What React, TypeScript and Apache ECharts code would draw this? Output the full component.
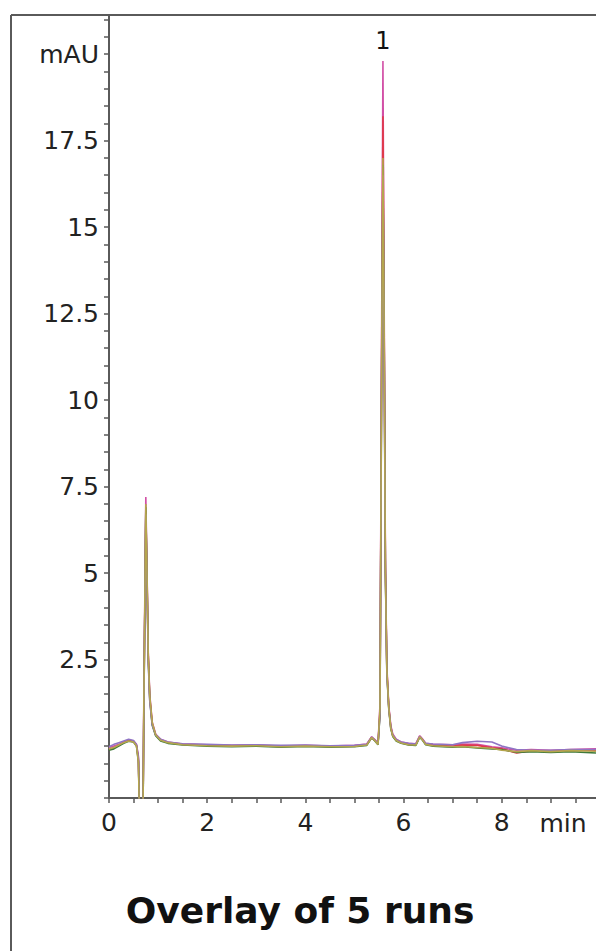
import React, { useEffect, useRef } from "react";
import * as echarts from "echarts";

// retention time (min)
const time = [
  0, 0.1, 0.2, 0.3, 0.4, 0.5, 0.56, 0.6, 0.625, 0.69,
  0.71, 0.75, 0.78, 0.8, 0.83, 0.88, 0.95, 1.05, 1.2, 1.5,
  2.0, 2.5, 3.0, 3.5, 4.0, 4.5, 5.0, 5.25, 5.35, 5.42,
  5.48, 5.52, 5.555, 5.58, 5.605, 5.63, 5.66, 5.7, 5.74, 5.78,
  5.85, 5.95, 6.1, 6.25, 6.33, 6.38, 6.45, 6.6, 7.0, 7.2,
  7.5, 7.8, 8.0, 8.3, 8.6, 9.0, 9.4, 9.92,
];

// absorbance (mAU), five runs
const run1 = [
  -0.05, 0.0, 0.05, 0.12, 0.18, 0.15, 0.05, -0.3, -2.5, -2.5,
  1.5, 7.2, 4.6, 2.7, 1.5, 0.7, 0.35, 0.2, 0.12, 0.06,
  0.04, 0.02, 0.03, 0.0, 0.02, 0.0, 0.02, 0.06, 0.27, 0.18,
  0.08, 1.2, 12.5, 19.8, 12.8, 5.4, 2.3, 1.15, 0.6, 0.35,
  0.2, 0.12, 0.08, 0.07, 0.3, 0.22, 0.08, 0.05, 0.04, 0.06,
  0.05, -0.02, -0.05, -0.12, -0.1, -0.12, -0.1, -0.08,
];
const run2 = [
  -0.1, -0.05, 0.02, 0.1, 0.16, 0.13, 0.02, -0.4, -2.5, -2.5,
  1.2, 6.8, 4.4, 2.6, 1.4, 0.65, 0.32, 0.18, 0.1, 0.05,
  0.03, 0.01, 0.02, -0.01, 0.01, -0.01, 0.0, 0.04, 0.25, 0.16,
  0.06, 1.0, 11.8, 18.2, 12.2, 5.2, 2.2, 1.1, 0.55, 0.3,
  0.17, 0.1, 0.05, 0.04, 0.28, 0.2, 0.06, 0.02, 0.0, 0.03,
  0.02, -0.05, -0.08, -0.2, -0.14, -0.15, -0.12, -0.12,
];
const run3 = [
  -0.12, -0.08, 0.0, 0.08, 0.14, 0.12, 0.0, -0.45, -2.5, -2.5,
  1.0, 6.9, 4.3, 2.5, 1.35, 0.6, 0.3, 0.15, 0.08, 0.03,
  0.0, -0.02, 0.0, -0.03, -0.01, -0.03, -0.02, 0.02, 0.24, 0.14,
  0.04, 0.9, 11.2, 16.8, 11.8, 5.0, 2.1, 1.05, 0.5, 0.28,
  0.15, 0.08, 0.03, 0.02, 0.26, 0.18, 0.04, 0.0, -0.03, -0.02,
  -0.05, -0.08, -0.1, -0.18, -0.16, -0.18, -0.16, -0.2,
];
const run4 = [
  -0.02, 0.05, 0.1, 0.15, 0.2, 0.16, 0.04, -0.35, -2.5, -2.5,
  1.1, 6.7, 4.2, 2.4, 1.3, 0.62, 0.33, 0.2, 0.12, 0.07,
  0.05, 0.03, 0.04, 0.02, 0.03, 0.01, 0.02, 0.05, 0.26, 0.17,
  0.07, 0.95, 11.0, 16.5, 11.6, 5.0, 2.1, 1.08, 0.55, 0.32,
  0.19, 0.12, 0.08, 0.06, 0.28, 0.2, 0.08, 0.06, 0.04, 0.1,
  0.14, 0.12, 0.0, -0.1, -0.12, -0.12, -0.1, -0.1,
];
const run5 = [
  -0.08, -0.04, 0.03, 0.1, 0.15, 0.12, 0.0, -0.5, -2.5, -2.5,
  1.3, 7.0, 4.5, 2.6, 1.45, 0.68, 0.33, 0.17, 0.1, 0.04,
  0.01, 0.0, 0.01, -0.02, 0.0, -0.02, -0.01, 0.03, 0.25, 0.15,
  0.05, 1.1, 11.5, 17.0, 12.0, 5.1, 2.2, 1.1, 0.52, 0.3,
  0.16, 0.09, 0.04, 0.03, 0.27, 0.19, 0.05, 0.01, -0.02, -0.01,
  -0.04, -0.06, -0.12, -0.16, -0.13, -0.16, -0.13, -0.15,
];

const runColors = ["#d24fa6", "#e0394a", "#3f7a3a", "#8f74c4", "#b5a64e"];
const runs = [run1, run2, run3, run4, run5];

const xTicks = [0, 0.5, 1, 1.5, 2, 2.5, 3, 3.5, 4, 4.5, 5, 5.5, 6, 6.5, 7, 7.5, 8, 8.5, 9, 9.5];
const xLabels = [0, 2, 4, 6, 8];
const yTicks = [
  -1.5, -1, -0.5, 0, 0.5, 1, 1.5, 2, 2.5, 3, 3.5, 4, 4.5, 5, 5.5, 6, 6.5, 7, 7.5, 8, 8.5, 9, 9.5,
  10, 10.5, 11, 11.5, 12, 12.5, 13, 13.5, 14, 14.5, 15, 15.5, 16, 16.5, 17, 17.5, 18, 18.5, 19,
  19.5, 20, 20.5, 21,
];
const yLabels = [2.5, 5, 7.5, 10, 12.5, 15, 17.5, 20];
const peakLabel = "1";
const yUnit = "mAU";
const xUnit = "min";
const title = "Overlay of 5 runs";

const FONT = "DejaVu Sans";

export default function App() {
  const ref = useRef<HTMLDivElement>(null);
  useEffect(() => {
    if (!ref.current) return;
    const chart = echarts.init(ref.current, null, { renderer: "svg" });
    let iMax = 0;
    run1.forEach((v, i) => {
      if (v > run1[iMax]) iMax = i;
    });
    const series: any[] = runs.map((vals, k) => ({
      type: "line",
      data: time.map((t, i) => [t, vals[i]]),
      showSymbol: false,
      symbol: "none",
      lineStyle: { color: runColors[k], width: 1.6 },
      itemStyle: { color: runColors[k] },
      clip: true,
      silent: true,
      markPoint:
        k === 0
          ? {
              symbol: "circle",
              symbolSize: 1,
              itemStyle: { color: "rgba(0,0,0,0)" },
              label: {
                show: true,
                position: "top",
                distance: 8,
                formatter: peakLabel,
                color: "#111",
                fontSize: 24,
                fontFamily: FONT,
              },
              data: [{ coord: [time[iMax], run1[iMax]] }],
            }
          : undefined,
    }));
    chart.setOption({
      animation: false,
      backgroundColor: "#ffffff",
      grid: { left: 109, right: 0, top: 15, bottom: 153, containLabel: false },
      xAxis: {
        type: "value",
        min: 0,
        max: 9.92,
        axisLine: { show: true, onZero: false, lineStyle: { color: "#5a5a5a", width: 2 } },
        axisTick: {
          show: true,
          customValues: xTicks,
          length: 5,
          lineStyle: { color: "#5a5a5a", width: 1.5 },
        },
        axisLabel: {
          customValues: xLabels,
          margin: 12,
          color: "#222",
          fontSize: 25,
          fontFamily: FONT,
          formatter: (v: number) => String(v),
        },
        splitLine: { show: false },
      },
      yAxis: {
        type: "value",
        min: -1.5,
        max: 21.13,
        axisLine: { show: true, onZero: false, lineStyle: { color: "#5a5a5a", width: 2 } },
        axisTick: {
          show: true,
          customValues: yTicks,
          length: 5,
          lineStyle: { color: "#5a5a5a", width: 1.5 },
        },
        axisLabel: {
          customValues: yLabels,
          margin: 10,
          color: "#222",
          fontSize: 25,
          fontFamily: FONT,
          formatter: (v: number) => (v === 20 ? yUnit : String(v)),
        },
        splitLine: { show: false },
      },
      series,
      graphic: [
        {
          type: "line",
          shape: { x1: 11, y1: 15, x2: 596, y2: 15 },
          style: { stroke: "#5a5a5a", lineWidth: 2 },
          silent: true,
        },
        {
          type: "line",
          shape: { x1: 11, y1: 15, x2: 11, y2: 951 },
          style: { stroke: "#5a5a5a", lineWidth: 2 },
          silent: true,
        },
        {
          type: "text",
          x: 563,
          y: 823,
          style: {
            text: xUnit,
            fill: "#222",
            fontSize: 25,
            fontFamily: FONT,
            align: "center",
            verticalAlign: "middle",
          },
          silent: true,
        },
        {
          type: "text",
          x: 300,
          y: 910,
          style: {
            text: title,
            fill: "#111",
            fontSize: 36,
            fontWeight: "bold",
            fontFamily: FONT,
            align: "center",
            verticalAlign: "middle",
          },
          silent: true,
        },
      ],
    });
    return () => chart.dispose();
  }, []);
  return (
    <div
      ref={ref}
      style={{ position: "fixed", left: 0, top: 0, width: 596, height: 951, background: "#fff" }}
    />
  );
}
